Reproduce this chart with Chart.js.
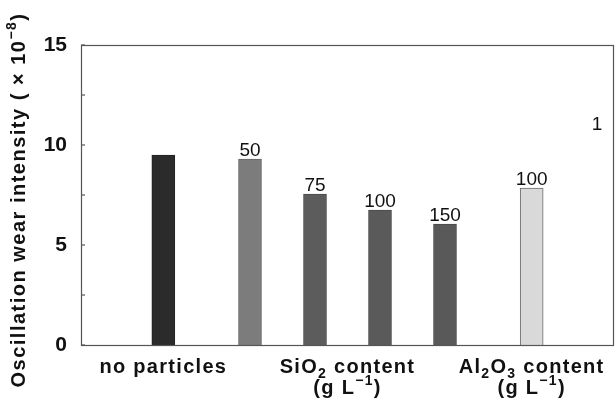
<!DOCTYPE html>
<html>
<head>
<meta charset="utf-8">
<script src="https://cdn.jsdelivr.net/npm/chart.js@4/dist/chart.umd.min.js"></script>
<style>
  html, body { margin: 0; padding: 0; background: #fff; }
</style>
</head>
<body>
<canvas id="chart" width="616" height="401"></canvas>
<script>
// bar positions along the x axis (groups separated by a wider gap)
var barX = [1, 2, 2.75, 3.5, 4.25, 5.25]
var wear = [9.5, 9.3, 7.55, 6.75, 6.05, 7.85]
var barLabels = ['', '50', '75', '100', '150', '100']
var barColors = ['#2b2b2b', '#7c7c7c', '#5c5c5c', '#5a5a5a', '#595959', '#d9d9d9']
var barBorders = ['#222', '#666', '#4a4a4a', '#4a4a4a', '#4a4a4a', '#6a6a6a']
var yTicks = [0, 5, 10, 15]

// group captions: [x position, main text parts]  (parts: [text, 'n'|'sub'|'sup'])
var groups = [
  { x: 1, lines: [[['no particles', 'n']]] },
  { x: 3.125, lines: [[['SiO', 'n'], ['2', 'sub'], [' content', 'n']], [['(g L', 'n'], ['\u2212', 'sup'], ['1', 'sup'], [')', 'n']]] },
  { x: 5.25, lines: [[['Al', 'n'], ['2', 'sub'], ['O', 'n'], ['3', 'sub'], [' content', 'n']], [['(g L', 'n'], ['\u2212', 'sup'], ['1', 'sup'], [')', 'n']]] }
]

var FONT = '"Liberation Sans", Arial, sans-serif'

function partFont(kind) {
  return kind == 'n' ? 'bold 20px ' + FONT : 'bold 14px ' + FONT
}

function measureParts(ctx, parts) {
  var w = 0
  parts.forEach(function (p) {
    ctx.font = partFont(p[1])
    w += ctx.measureText(p[0]).width
  })
  return w
}

function drawParts(ctx, parts, x, y) {
  parts.forEach(function (p) {
    ctx.font = partFont(p[1])
    var dy = p[1] == 'sub' ? 5 : (p[1] == 'sup' ? -9 : 0)
    ctx.fillText(p[0], x, y + dy)
    x += ctx.measureText(p[0]).width
  })
}

var decor = {
  id: 'decor',
  afterDraw: function (chart) {
    var ctx = chart.ctx
    var a = chart.chartArea
    var xs = chart.scales.x
    var ys = chart.scales.y
    ctx.save()

    // frame
    ctx.strokeStyle = '#555'
    ctx.lineWidth = 1.2
    ctx.strokeRect(a.left + 0.5, a.top + 0.5, a.right - a.left - 1, a.bottom - a.top)

    // small inward ticks
    for (var v = 0; v <= 15; v += 2.5) {
      var py = ys.getPixelForValue(v)
      ctx.beginPath()
      ctx.moveTo(a.left, py)
      ctx.lineTo(a.left + 4, py)
      ctx.stroke()
    }

    // labels over bars
    ctx.fillStyle = '#111'
    ctx.textAlign = 'center'
    ctx.textBaseline = 'alphabetic'
    ctx.font = '19px ' + FONT
    barLabels.forEach(function (t, i) {
      if (!t) return
      ctx.fillText(t, xs.getPixelForValue(barX[i]), ys.getPixelForValue(wear[i]) - 3)
    })
    ctx.fillText('1', 597, 130)

    // group captions
    ctx.textAlign = 'left'
    ctx.letterSpacing = '1.3px'
    groups.forEach(function (g) {
      var cx = xs.getPixelForValue(g.x)
      g.lines.forEach(function (parts, li) {
        var w = measureParts(ctx, parts)
        drawParts(ctx, parts, cx - w / 2, a.bottom + 28 + li * 21)
      })
    })

    // y axis title
    ctx.letterSpacing = '1.5px'
    ctx.translate(25, 200)
    ctx.rotate(-Math.PI / 2)
    var title = [['Oscillation wear intensity ( \u00d7 10', 'n'], ['\u2212', 'sup'], ['8', 'sup'], [')', 'n']]
    var tw = measureParts(ctx, title)
    drawParts(ctx, title, -tw / 2, 0)
    ctx.restore()
  }
}

new Chart(document.getElementById('chart'), {
  type: 'bar',
  data: {
    datasets: [{
      data: barX.map(function (x, i) { return { x: x, y: wear[i] } }),
      backgroundColor: barColors,
      borderColor: barBorders,
      borderWidth: 1,
      barThickness: 23
    }]
  },
  options: {
    responsive: false,
    animation: false,
    layout: { padding: { left: 0, top: 45, right: 2, bottom: 0 } },
    plugins: { legend: { display: false }, tooltip: { enabled: false } },
    scales: {
      x: {
        type: 'linear',
        min: 0.05,
        max: 6.2,
        offset: false,
        grid: { display: false, offset: false },
        border: { display: false },
        ticks: { display: false },
        afterFit: function (s) { s.height = 56 }
      },
      y: {
        min: 0,
        max: 15,
        grid: { display: false },
        border: { display: false },
        afterBuildTicks: function (s) { s.ticks = yTicks.map(function (v) { return { value: v } }) },
        ticks: {
          padding: 6,
          color: '#111',
          font: { family: FONT, size: 21, weight: 'bold' }
        },
        afterFit: function (s) { s.width = 81 }
      }
    }
  },
  plugins: [decor]
})
</script>
</body>
</html>
